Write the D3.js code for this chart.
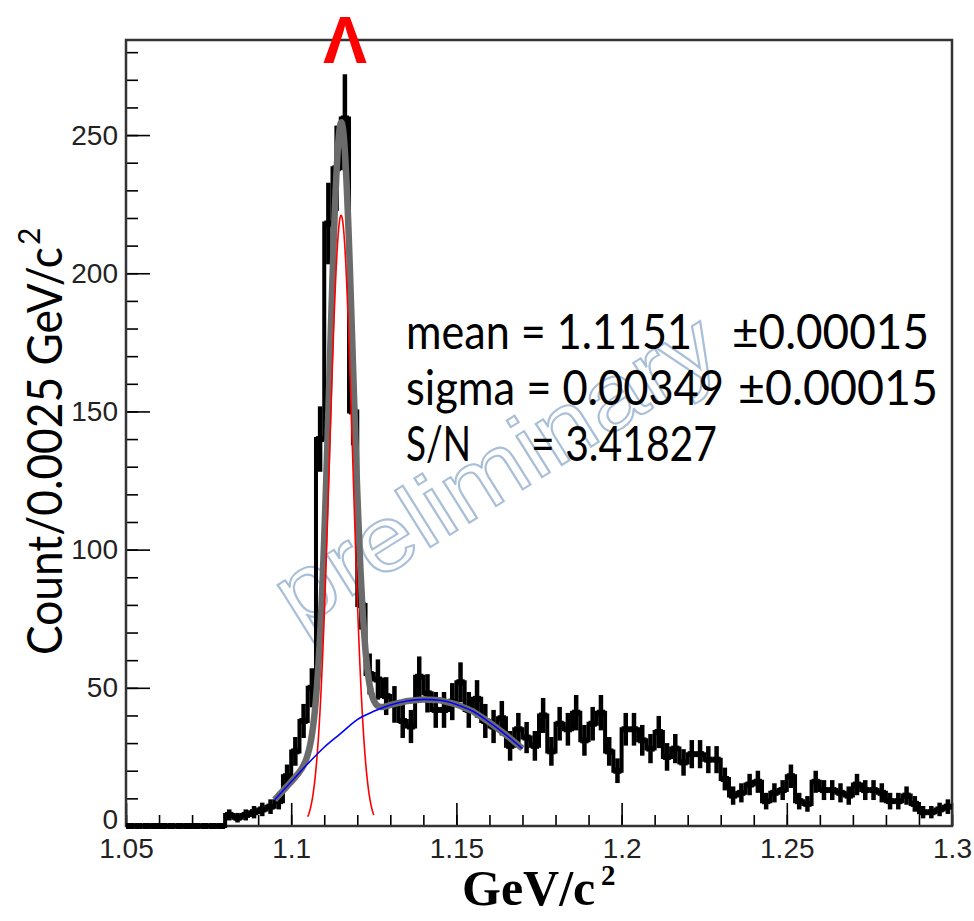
<!DOCTYPE html>
<html lang="en">
<head>
  <meta charset="utf-8">
  <title>Lambda invariant mass</title>
  <script src="https://d3js.org/d3.v7.min.js"></script>
</head>
<body style="margin:0; background-color: white;">
  <svg id="chart" width="974" height="921"></svg>
</body>
<script type="text/javascript">
  // histogram: 100 bins of 0.0025 GeV/c^2 starting at 1.05
  var binStart = 1.05,
      binWidth = 0.0025;
  var counts = [0,0,0,0,0,0,0,0,0,0,0,0,
    4,3,4,5,6,7,9,18,
    27,38,50,140,218,238,256,150,80,55,
    53,47,44,38,36,54,48,42,42,45,
    52,42,46,38,36,39,29,35,32,29,
    40,27,37,35,41,31,37,41,27,20,
    35,35,31,28,34,25,28,23,26,26,
    24,24,17,11,12,15,16,9,12,13,
    18,9,8,16,13,13,12,11,15,13,
    13,12,9,9,11,8,5,5,6,7];

  // background fit
  var bgMass = [1.095, 1.10, 1.105, 1.11, 1.115, 1.12, 1.125, 1.13, 1.135, 1.14, 1.145, 1.15, 1.155, 1.16, 1.165, 1.17];
  var bgCount = [9.5, 16, 22.5, 28.5, 33.5, 38.5, 41.5, 43.8, 45.2, 45.8, 45.5, 44, 41.5, 37.5, 33, 28];

  // signal gaussian (fit parameters printed on the plot)
  var sigAmp = 221, sigMean = 1.1151, sigSigma = 0.00349;
  var sigRange = [1.105, 1.125], fitRange = [1.095, 1.17];

  var xTickVals = [1.05, 1.1, 1.15, 1.2, 1.25, 1.3],
      xTickLabels = ["1.05", "1.1", "1.15", "1.2", "1.25", "1.3"],
      yTickVals = [0, 50, 100, 150, 200, 250];

  var svg = d3.select("#chart"),
      frameL = 126, frameR = 952, frameT = 40, frameB = 826;

  var x = d3.scaleLinear().domain([1.05, 1.3]).range([frameL, frameR]),
      y = d3.scaleLinear().domain([0, 284.4]).range([frameB, frameT]);

  // watermark
  svg.append("text")
     .attr("transform", "translate(512,496) rotate(-32)")
     .attr("text-anchor", "middle")
     .attr("font-family", "Liberation Sans, Arial, sans-serif")
     .attr("font-size", "92px")
     .attr("fill", "none")
     .attr("stroke", "#a9bfd8")
     .attr("stroke-width", 2)
     .attr("textLength", 505)
     .attr("lengthAdjust", "spacingAndGlyphs")
     .text("preliminary");

  // minor ticks
  var xMinor = d3.range(0, 26).map(function(i) { return 1.05 + i * 0.01; });
  var yMinor = d3.range(0, 29).map(function(i) { return i * 10; });

  svg.append("g")
     .attr("transform", "translate(0," + frameB + ")")
     .call(d3.axisBottom(x).tickValues(xMinor).tickSize(-11).tickSizeOuter(0).tickFormat(""))
     .call(function(g) { g.select(".domain").remove(); g.selectAll("line").attr("stroke", "#000").attr("stroke-width", 1.6); });

  svg.append("g")
     .attr("transform", "translate(" + frameL + ",0)")
     .call(d3.axisLeft(y).tickValues(yMinor).tickSize(-12).tickSizeOuter(0).tickFormat(""))
     .call(function(g) { g.select(".domain").remove(); g.selectAll("line").attr("stroke", "#000").attr("stroke-width", 1.6); });

  // major ticks + labels
  svg.append("g")
     .attr("transform", "translate(0," + frameB + ")")
     .call(d3.axisBottom(x).tickValues(xTickVals).tickSize(-23).tickSizeOuter(0).tickPadding(12)
       .tickFormat(function(d, i) { return xTickLabels[i]; }))
     .call(function(g) {
       g.select(".domain").remove();
       g.selectAll("line").attr("stroke", "#000").attr("stroke-width", 1.6);
       g.selectAll("text").attr("font-family", "Liberation Sans, Arial, sans-serif")
        .attr("font-size", "28px").attr("fill", "#222");
     });

  svg.append("g")
     .attr("transform", "translate(" + frameL + ",0)")
     .call(d3.axisLeft(y).tickValues(yTickVals).tickSize(-24).tickSizeOuter(0).tickPadding(8))
     .call(function(g) {
       g.select(".domain").remove();
       g.selectAll("line").attr("stroke", "#000").attr("stroke-width", 1.6);
       g.selectAll("text").attr("font-family", "Liberation Sans, Arial, sans-serif")
        .attr("font-size", "28px").attr("fill", "#222")
        .attr("dy", function(d) { return d === 0 ? "0.1em" : "0.32em"; });
     });

  // frame
  svg.append("rect")
     .attr("x", frameL).attr("y", frameT)
     .attr("width", frameR - frameL).attr("height", frameB - frameT)
     .attr("fill", "none")
     .attr("stroke", "#333")
     .attr("stroke-width", 2.5);

  // histogram: step outline + error bars
  var hist = svg.append("g").attr("stroke", "#000");
  var bins = counts.map(function(c, i) {
    return { lo: binStart + i * binWidth, hi: binStart + (i + 1) * binWidth, v: c };
  });
  var stepPts = bins.map(function(d) { return [d.lo, d.v]; });
  stepPts.push([bins[bins.length - 1].hi, bins[bins.length - 1].v]);

  hist.append("path")
      .datum(stepPts)
      .attr("fill", "none")
      .attr("stroke-width", 4)
      .attr("d", d3.line()
        .x(function(d) { return x(d[0]); })
        .y(function(d) { return y(d[1]); })
        .curve(d3.curveStepAfter));

  hist.selectAll(".hbar")
      .data(bins)
      .enter().append("line")
      .attr("class", "hbar")
      .attr("stroke-width", 6)
      .attr("x1", function(d) { return x(d.lo); })
      .attr("x2", function(d) { return x(d.hi); })
      .attr("y1", function(d) { return y(d.v); })
      .attr("y2", function(d) { return y(d.v); });

  hist.selectAll(".ebar")
      .data(bins.filter(function(d) { return d.v > 0; }))
      .enter().append("line")
      .attr("class", "ebar")
      .attr("stroke-width", 4.5)
      .attr("x1", function(d) { return x((d.lo + d.hi) / 2); })
      .attr("x2", function(d) { return x((d.lo + d.hi) / 2); })
      .attr("y1", function(d) { return y(d.v - Math.sqrt(d.v)); })
      .attr("y2", function(d) { return y(d.v + Math.sqrt(d.v)); });

  // fit curves
  var bg = d3.scaleLinear().domain(bgMass).range(bgCount);
  function gauss(m) {
    var z = (m - sigMean) / sigSigma;
    return sigAmp * Math.exp(-0.5 * z * z);
  }
  var line = d3.line()
      .x(function(d) { return x(d[0]); })
      .y(function(d) { return y(d[1]); });

  var fitGrid = d3.range(fitRange[0], fitRange[1] + 1e-9, 0.0002);
  var sigGrid = d3.range(sigRange[0], sigRange[1] + 1e-9, 0.0002);

  svg.append("path")
     .datum(fitGrid.map(function(m) { return [m, bg(m) + gauss(m)]; }))
     .attr("d", line)
     .attr("fill", "none")
     .attr("stroke", "#6b6b6b")
     .attr("stroke-width", 6.5)
     .attr("stroke-linejoin", "round");

  svg.append("path")
     .datum(sigGrid.map(function(m) { return [m, gauss(m)]; }))
     .attr("d", line)
     .attr("fill", "none")
     .attr("stroke", "#ff0000")
     .attr("stroke-width", 1.6);

  svg.append("path")
     .datum(bgMass.map(function(m, i) { return [m, bgCount[i]]; }))
     .attr("d", line.curve(d3.curveMonotoneX))
     .attr("fill", "none")
     .attr("stroke", "#0000ff")
     .attr("stroke-width", 1.6);

  // fit result text
  var info = svg.append("g")
     .attr("font-family", "Lato, 'Open Sans', sans-serif")
     .attr("font-size", "48px")
     .attr("fill", "#000");
  var infoLines = [
    { t: "mean = 1.1151", x: 406, len: 286, yb: 349 },
    { t: "\u00b10.00015", x: 732, len: 197, yb: 349 },
    { t: "sigma = 0.00349", x: 406, len: 318, yb: 405 },
    { t: "\u00b10.00015", x: 738, len: 200, yb: 405 },
    { t: "S/N", x: 406, len: 65, yb: 461 },
    { t: "= 3.41827", x: 531, len: 186, yb: 461 }
  ];
  info.selectAll("text")
      .data(infoLines)
      .enter().append("text")
      .attr("x", function(d) { return d.x; })
      .attr("y", function(d) { return d.yb; })
      .attr("textLength", function(d) { return d.len; })
      .attr("lengthAdjust", "spacingAndGlyphs")
      .text(function(d) { return d.t; });

  // lambda label
  svg.append("text")
     .attr("x", 345).attr("y", 63)
     .attr("text-anchor", "middle")
     .attr("font-family", "Liberation Sans, Arial, sans-serif")
     .attr("font-weight", "bold")
     .attr("font-size", "66px")
     .attr("fill", "#ff0000")
     .text("\u039b");

  // axis titles
  svg.append("text")
     .attr("transform", "translate(62,655) rotate(-90)")
     .attr("font-family", "Lato, 'Open Sans', sans-serif")
     .attr("font-size", "48px")
     .attr("textLength", 408)
     .attr("lengthAdjust", "spacingAndGlyphs")
     .text("Count/0.0025 GeV/c");
  svg.append("text")
     .attr("transform", "translate(40,245) rotate(-90)")
     .attr("font-family", "Lato, 'Open Sans', sans-serif")
     .attr("font-size", "30px")
     .text("2");

  svg.append("text")
     .attr("x", 462).attr("y", 905)
     .attr("font-family", "Liberation Serif, serif")
     .attr("font-weight", "bold")
     .attr("font-size", "50px")
     .text("GeV/c");
  svg.append("text")
     .attr("x", 601).attr("y", 885)
     .attr("font-family", "Liberation Serif, serif")
     .attr("font-weight", "bold")
     .attr("font-size", "29px")
     .text("2");
</script>
</html>
